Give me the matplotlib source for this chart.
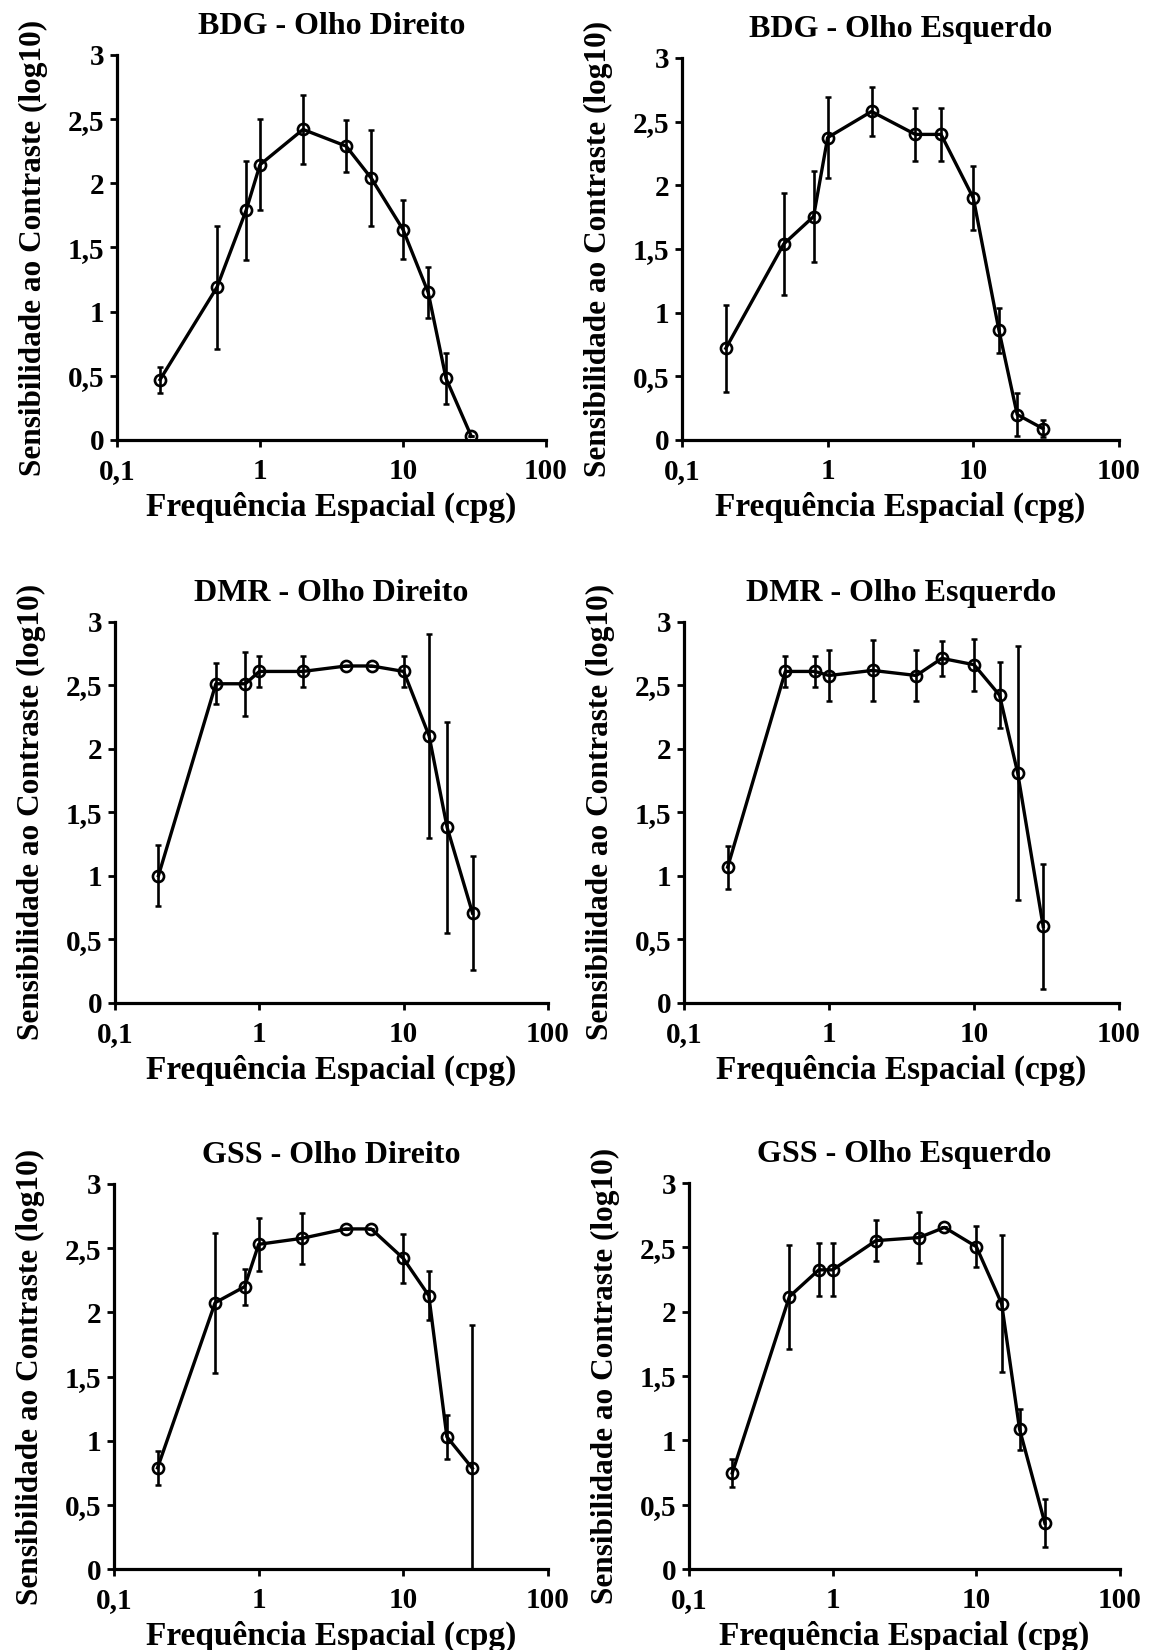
import matplotlib
matplotlib.use("Agg")
import matplotlib.pyplot as plt
from matplotlib.ticker import FixedLocator, FixedFormatter, NullLocator

plt.rcParams['font.family'] = ['Liberation Serif', 'DejaVu Serif']
plt.rcParams['font.weight'] = 'bold'

freqs = [0.2, 0.5, 0.8, 1, 2, 4, 6, 10, 15, 20, 30]

titles = ["BDG - Olho Direito", "BDG - Olho Esquerdo",
          "DMR - Olho Direito", "DMR - Olho Esquerdo",
          "GSS - Olho Direito", "GSS - Olho Esquerdo"]

bdg_od = [0.47, 1.19, 1.79, 2.145, 2.42, 2.29, 2.04, 1.64, 1.15, 0.48, 0.03]
bdg_od_err = [0.10, 0.48, 0.385, 0.355, 0.27, 0.20, 0.375, 0.23, 0.20, 0.20, 0.0]

bdg_oe = [0.72, 1.54, 1.755, 2.375, 2.58, 2.40, 2.40, 1.90, 0.86, 0.20, 0.09]
bdg_oe_err = [0.34, 0.40, 0.36, 0.315, 0.195, 0.21, 0.21, 0.25, 0.18, 0.17, 0.07]

dmr_od = [1.00, 2.51, 2.51, 2.607, 2.607, 2.65, 2.65, 2.607, 2.10, 1.38, 0.705]
dmr_od_err = [0.24, 0.16, 0.25, 0.12, 0.12, 0.0, 0.0, 0.12, 0.80, 0.83, 0.45]

dmr_oe = [1.067, 2.607, 2.607, 2.575, 2.615, 2.575, 2.71, 2.66, 2.42, 1.81, 0.60]
dmr_oe_err = [0.17, 0.12, 0.12, 0.20, 0.24, 0.20, 0.14, 0.205, 0.26, 1.00, 0.49]

gss_od = [0.788, 2.075, 2.20, 2.53, 2.577, 2.65, 2.65, 2.42, 2.13, 1.03, 0.785]
gss_od_err = [0.135, 0.545, 0.14, 0.205, 0.20, 0.0, 0.0, 0.19, 0.19, 0.17, 1.12]

gss_oe = [0.746, 2.117, 2.325, 2.325, 2.552, 2.576, 2.655, 2.505, 2.062, 1.086, 0.356]
gss_oe_err = [0.11, 0.405, 0.205, 0.205, 0.16, 0.20, 0.0, 0.16, 0.53, 0.16, 0.185]

series = [(bdg_od, bdg_od_err), (bdg_oe, bdg_oe_err),
          (dmr_od, dmr_od_err), (dmr_oe, dmr_oe_err),
          (gss_od, gss_od_err), (gss_oe, gss_oe_err)]

xticks = [0.1, 1, 10, 100]
xticklabels = ["0,1", "1", "10", "100"]
yticks = [0, 0.5, 1, 1.5, 2, 2.5, 3]
yticklabels = ["0", "0,5", "1", "1,5", "2", "2,5", "3"]

xlabel = "Frequência Espacial (cpg)"
ylabel = "Sensibilidade ao Contraste (log10)"

W, H = 1161, 1650
# (left, right, top, bottom) in pixels
boxes = [(117, 546, 55, 440), (682, 1119, 58, 440),
         (115, 548, 621.5, 1002.7), (684, 1119, 621.5, 1002.7),
         (114, 548, 1184, 1569), (689, 1120, 1183, 1569)]

fig = plt.figure(figsize=(W / 100, H / 100), dpi=100)

for (l, r, t, b), title, (vals, errs) in zip(boxes, titles, series):
    ax = fig.add_axes([l / W, 1 - b / H, (r - l) / W, (b - t) / H])
    ax.plot(freqs, vals, color='black', lw=2.4, zorder=2)
    ax.errorbar(freqs, vals, yerr=errs, fmt='none', ecolor='black',
                elinewidth=1.9, capsize=2.2, capthick=1.8, zorder=3)
    ax.plot(freqs, vals, linestyle='none', marker='o', markersize=8,
            markerfacecolor='none', markeredgecolor='black', markeredgewidth=1.9,
            zorder=4)
    ax.set_xscale('log')
    ax.set_xlim(0.1, 100)
    ax.set_ylim(0, 3)
    ax.xaxis.set_major_locator(FixedLocator(xticks))
    ax.xaxis.set_major_formatter(FixedFormatter(xticklabels))
    ax.xaxis.set_minor_locator(NullLocator())
    ax.yaxis.set_major_locator(FixedLocator(yticks))
    ax.yaxis.set_major_formatter(FixedFormatter(yticklabels))
    for s in ['top', 'right']:
        ax.spines[s].set_visible(False)
    for s in ['left', 'bottom']:
        ax.spines[s].set_linewidth(2.3)
    ax.tick_params(axis='both', direction='out', length=5, width=2,
                   labelsize=21)
    ax.tick_params(axis='x', pad=8)
    ax.tick_params(axis='y', pad=4)
    for lab in ax.get_xticklabels() + ax.get_yticklabels():
        lab.set_fontweight('bold')
    ax.set_title(title, fontsize=23, fontweight='bold', pad=15)
    ax.set_xlabel(xlabel, fontsize=24, fontweight='bold', labelpad=5)
    ax.set_ylabel(ylabel, fontsize=22.5, fontweight='bold', labelpad=14)

fig.savefig("out.png", dpi=100, facecolor='white')
